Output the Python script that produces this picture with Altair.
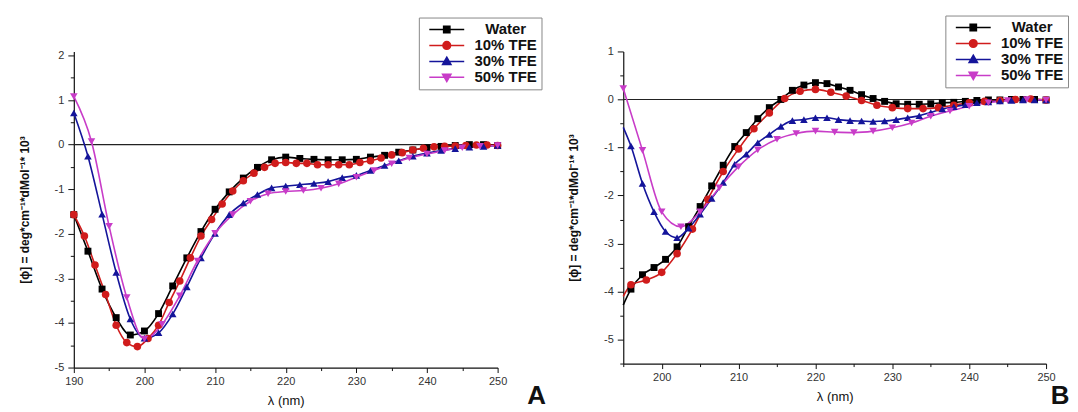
import altair as alt
import pandas as pd

SERIES = ["Water", "10% TFE", "30% TFE", "50% TFE"]
COLORS = ["#000000", "#d01c1c", "#14149a", "#c83cc8"]
MARKERS = ["square", "circle", "triangle-up", "triangle-down"]
MARKER_SIZES = [48, 58, 58, 58]
LEG_LINE = "M-2.5,0H2.5"
LEGEND_PATHS = [
    LEG_LINE + "M-0.45,-0.45H0.45V0.45H-0.45Z",
    LEG_LINE + "M-0.55,0A0.55,0.55,0,1,1,0.55,0A0.55,0.55,0,1,1,-0.55,0Z",
    LEG_LINE + "M0,-0.6L0.6,0.45L-0.6,0.45Z",
    LEG_LINE + "M0,0.6L0.6,-0.45L-0.6,-0.45Z",
]
YTITLE = "[ϕ] = deg*cm⁻¹*dMol⁻¹* 10³"
XTITLE = "λ (nm)"
FONT = "Liberation Sans"

# ---------------- Panel A ----------------
a_water_x = list(range(190, 251, 2))
a_water_y = [-1.57, -2.39, -3.24, -3.88, -4.27, -4.18, -3.79, -3.17, -2.54, -1.95,
             -1.45, -1.06, -0.75, -0.51, -0.34, -0.28, -0.31, -0.33, -0.34, -0.34,
             -0.33, -0.28, -0.24, -0.17, -0.12, -0.07, -0.04, -0.02, 0.0, 0.0, -0.02]
a_tfe10_x = [190 + 1.5 * i for i in range(41)]
a_tfe10_y = [-1.57, -2.05, -2.70, -3.36, -4.05, -4.44, -4.53, -4.35, -4.05, -3.54,
             -3.06, -2.54, -2.05, -1.68, -1.33, -1.04, -0.81, -0.64, -0.51, -0.42,
             -0.40, -0.42, -0.42, -0.45, -0.45, -0.45, -0.45, -0.40, -0.36, -0.30,
             -0.23, -0.18, -0.12, -0.08, -0.05, -0.04, -0.03, -0.02, -0.01, -0.01, -0.02]
a_tfe30_x = list(range(190, 251, 2))
a_tfe30_y = [0.71, -0.26, -1.56, -2.87, -3.91, -4.34, -4.22, -3.80, -3.19, -2.54,
             -1.99, -1.57, -1.31, -1.12, -0.97, -0.93, -0.90, -0.87, -0.83, -0.74,
             -0.69, -0.58, -0.47, -0.36, -0.26, -0.19, -0.13, -0.09, -0.06, -0.04, -0.02]
a_tfe50_x = [190 + 2.5 * i for i in range(25)]
a_tfe50_y = [1.08, 0.07, -1.83, -3.43, -4.36, -4.03, -3.39, -2.61, -1.99, -1.57,
             -1.27, -1.10, -1.05, -1.03, -0.98, -0.88, -0.73, -0.58, -0.43, -0.30,
             -0.21, -0.13, -0.07, -0.04, -0.02]

# ---------------- Panel B ----------------
b_start_x = 195
b_water_start, b_tfe10_start, b_tfe30_start = -4.28, -4.10, -0.58
b_water_x = [196 + 1.5 * i for i in range(37)]
b_water_y = [-3.95, -3.65, -3.50, -3.33, -3.07, -2.65, -2.23, -1.80, -1.37, -0.98,
             -0.69, -0.40, -0.17, 0.00, 0.19, 0.30, 0.35, 0.33, 0.26, 0.19,
             0.10, 0.02, -0.04, -0.09, -0.10, -0.10, -0.09, -0.07, -0.06, -0.04,
             -0.02, -0.01, -0.01, 0.0, 0.0, 0.0, -0.01]
b_tfe10_x = list(range(196, 251, 2))
b_tfe10_y = [-3.86, -3.76, -3.60, -3.21, -2.70, -2.08, -1.50, -1.03, -0.61, -0.28,
             0.02, 0.17, 0.21, 0.15, 0.07, -0.02, -0.12, -0.17, -0.19, -0.19,
             -0.17, -0.12, -0.07, -0.04, -0.02, 0.0, 0.01, -0.01]
b_tfe30_x = [196 + 1.5 * i for i in range(37)]
b_tfe30_y = [-0.97, -1.75, -2.34, -2.75, -2.88, -2.68, -2.39, -2.06, -1.73, -1.35,
             -1.14, -0.90, -0.73, -0.56, -0.44, -0.42, -0.38, -0.38, -0.42, -0.44,
             -0.45, -0.46, -0.45, -0.42, -0.38, -0.34, -0.27, -0.20, -0.15, -0.11,
             -0.07, -0.05, -0.03, -0.02, -0.01, -0.01, -0.01]
b_tfe50_x = [195 + 2.5 * i for i in range(23)]
b_tfe50_y = [0.23, -1.06, -2.34, -2.65, -2.34, -1.84, -1.40, -1.05, -0.83, -0.71,
             -0.66, -0.68, -0.69, -0.66, -0.59, -0.49, -0.35, -0.24, -0.14, -0.07,
             -0.02, 0.0, -0.01]

ZERO = [0]


def frame(xs_list, ys_list, starts=None):
    rows = []
    for name, xs, ys in zip(SERIES, xs_list, ys_list):
        if starts and name in starts:
            rows.append({"nm": starts[name][0], "v": starts[name][1], "series": name, "mk": 0})
        for x, y in zip(xs, ys):
            rows.append({"nm": x, "v": y, "series": name, "mk": 1})
    return pd.DataFrame(rows)


dfA = frame([a_water_x, a_tfe10_x, a_tfe30_x, a_tfe50_x],
            [a_water_y, a_tfe10_y, a_tfe30_y, a_tfe50_y])
dfB = frame([b_water_x, b_tfe10_x, b_tfe30_x, b_tfe50_x],
            [b_water_y, b_tfe10_y, b_tfe30_y, b_tfe50_y],
            starts={"Water": (b_start_x, b_water_start),
                    "10% TFE": (b_start_x, b_tfe10_start),
                    "30% TFE": (b_start_x, b_tfe30_start)})


def panel(df, xdom, ydom, xvals, yvals, width, height, legx, legy, letter, letx, lety):
    xs = alt.Scale(domain=xdom, nice=False, zero=False)
    ys = alt.Scale(domain=ydom, nice=False, zero=False)
    xaxis = alt.Axis(values=xvals, title=XTITLE, titleFontWeight="normal", titleFontSize=13,
                     titleColor="#111", titlePadding=8, labelPadding=3, labelFlush=False,
                     labelOverlap=False,
                     labelExpr="datum.value % 10 === 0 ? '' + datum.value : ''",
                     tickSize={"condition": {"test": "datum.value % 10 === 0", "value": 5}, "value": 3})
    yaxis = alt.Axis(values=yvals, title=YTITLE, titleFontWeight="bold", titleFontSize=12,
                     titleColor="#111", titlePadding=23, labelPadding=4, labelOverlap=False,
                     labelFlush=False,
                     labelExpr="datum.value % 1 === 0 ? '' + datum.value : ''",
                     tickSize={"condition": {"test": "datum.value % 1 === 0", "value": 6}, "value": 3.5})
    base = alt.Chart(df)
    x = alt.X("nm:Q", scale=xs, axis=xaxis)
    y = alt.Y("v:Q", scale=ys, axis=yaxis)
    zero = alt.Chart(pd.DataFrame({"z": ZERO})).mark_rule(color="#222", strokeWidth=1.1).encode(
        y=alt.Y("z:Q", scale=ys, axis=yaxis))
    layers = [zero]
    for name, col in zip(SERIES, COLORS):
        layers.append(
            base.transform_filter(alt.datum.series == name)
            .mark_line(interpolate="monotone", strokeWidth=1.6, color=col)
            .encode(x=x, y=y))
    for name, col, shp, sz in zip(SERIES, COLORS, MARKERS, MARKER_SIZES):
        layers.append(
            base.transform_filter(alt.datum.series == name).transform_filter("datum.mk == 1")
            .mark_point(filled=True, opacity=1, size=sz, shape=shp, color=col)
            .encode(x=x, y=y))
    leg_def = dict(orient="none", legendX=legx, legendY=legy, title=None,
                   direction="vertical", strokeColor="#888", fillColor="white", padding=4,
                   symbolSize=196, symbolStrokeWidth=1.5, symbolOffset=16,
                   symbolOpacity=1, symbolFillColor="#888", symbolStrokeColor="#888",
                   labelFont=FONT, labelFontSize=15,
                   labelFontWeight="bold", labelColor="#111",
                   labelAlign="center", labelOffset=51, rowPadding=0)
    leg = base.transform_filter("false").mark_point(filled=False, strokeWidth=1.5).encode(
        x=x, y=y,
        color=alt.Color("series:N", scale=alt.Scale(domain=SERIES, range=COLORS),
                        legend=alt.Legend(**leg_def)),
        fill=alt.Fill("series:N", scale=alt.Scale(domain=SERIES, range=COLORS),
                      legend=alt.Legend(**leg_def)),
        shape=alt.Shape("series:N", scale=alt.Scale(domain=SERIES, range=LEGEND_PATHS),
                        legend=alt.Legend(**leg_def)))
    layers.append(leg)
    lab = alt.Chart(pd.DataFrame({"t": [letter]})).mark_text(
        font=FONT, fontSize=26, fontWeight="bold", color="#111").encode(
        text="t:N", x=alt.value(letx), y=alt.value(lety))
    layers.append(lab)
    return alt.layer(*layers).properties(width=width, height=height)


A = panel(dfA, [190, 250], [-5, 2.09], [190 + 5 * i for i in range(13)],
          [-5 + 0.5 * i for i in range(15)], 425, 317, 346, -34, "A", 464, 346)
B = panel(dfB, [195, 250], [-5.5, 1], [195 + 5 * i for i in range(12)],
          [-5.5 + 0.5 * i for i in range(14)], 424, 313, 323, -36, "B", 438, 346)

chart = alt.hconcat(A, B, spacing=21).resolve_scale(
    color="independent", shape="independent", fill="independent"
).properties(padding={"left": 10, "top": 6, "right": 0, "bottom": 0}).configure_view(
    stroke=None).configure_axis(
    labelFont=FONT, labelFontSize=11, labelColor="#333", titleFont=FONT,
    domainColor="#111", tickColor="#111", domainWidth=1.2, grid=False)

chart.save("out.html", embed_options={"renderer": "svg", "actions": False})
